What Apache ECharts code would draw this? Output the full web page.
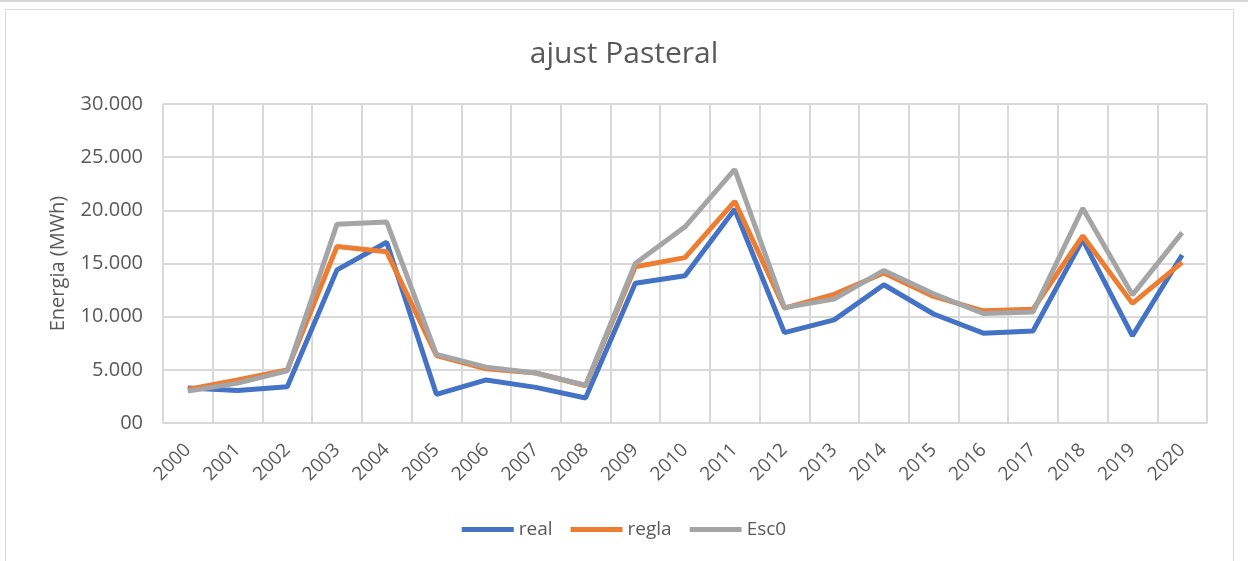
<!DOCTYPE html>
<html>
<head>
<meta charset="utf-8">
<script src="https://cdn.jsdelivr.net/npm/echarts@6/dist/echarts.min.js"></script>
<style>
  html, body { margin: 0; padding: 0; background: #fff; }
  body { width: 1248px; height: 561px; position: relative; overflow: hidden; }
  .topline { position: absolute; left: 0; top: 0; width: 1248px; height: 2px; background: #d6d6d6; }
  .frame { position: absolute; left: 5px; top: 9px; width: 1227px; height: 560px; border: 1px solid #d9d9d9; }
  #chart { position: absolute; left: 0; top: 0; width: 1248px; height: 561px; }
</style>
</head>
<body>
<div class="topline"></div>
<div class="frame"></div>
<div id="chart"></div>
<script>
const years = ["2000", "2001", "2002", "2003", "2004", "2005", "2006", "2007", "2008", "2009", "2010",
  "2011", "2012", "2013", "2014", "2015", "2016", "2017", "2018", "2019", "2020"];
const real = [3300, 3050, 3400, 14400, 17000, 2700, 4050, 3350, 2350, 13150, 13850,
  20100, 8500, 9700, 13000, 10250, 8450, 8650, 17250, 8200, 15800];
const regla = [3150, 4050, 5000, 16600, 16100, 6350, 5100, 4700, 3500, 14700, 15550,
  20850, 10800, 12100, 14100, 11900, 10550, 10700, 17600, 11250, 15100];
const esc0 = [3000, 3750, 4900, 18700, 18900, 6450, 5250, 4700, 3550, 15000, 18450,
  23850, 10850, 11650, 14350, 12150, 10300, 10450, 20200, 12050, 17900];
const yTickLabels = ["00", "5.000", "10.000", "15.000", "20.000", "25.000", "30.000"];

const chart = echarts.init(document.getElementById("chart"));
const textColor = "#595959";
const font = "Open Sans";

const option = {
  animation: false,
  color: ["#4472C4", "#ED7D31", "#A5A5A5"],
  title: {
    text: "ajust Pasteral",
    left: "center",
    top: 34,
    textStyle: { fontFamily: font, fontSize: 30, fontWeight: "normal", color: textColor },
  },
  legend: {
    bottom: 17,
    left: "center",
    icon: "rect",
    itemWidth: 52,
    itemHeight: 5,
    itemGap: 18,
    textStyle: { fontFamily: font, fontSize: 19, color: textColor },
    data: ["real", "regla", "Esc0"],
  },
  grid: { left: 163, right: 41, top: 104, bottom: 138 },
  xAxis: {
    type: "category",
    data: years,
    boundaryGap: true,
    axisLine: { lineStyle: { color: "#d9d9d9", width: 1 } },
    axisTick: { show: false },
    splitLine: { show: true, lineStyle: { color: "#d9d9d9", width: 2 } },
    axisLabel: {
      rotate: 45,
      interval: 0,
      margin: 24,
      fontFamily: font,
      fontSize: 19,
      color: textColor,
    },
  },
  yAxis: {
    type: "value",
    min: 0,
    max: 30000,
    interval: 5000,
    name: "Energia (MWh)",
    nameLocation: "middle",
    nameGap: 95,
    nameTextStyle: { fontFamily: font, fontSize: 20, color: textColor },
    axisLine: { show: false },
    axisTick: { show: false },
    splitLine: { lineStyle: { color: "#d9d9d9", width: 2 } },
    axisLabel: {
      margin: 20,
      fontFamily: font,
      fontSize: 20,
      color: textColor,
      formatter: (v) => yTickLabels[Math.round(v / 5000)],
    },
  },
  series: [
    { name: "real", type: "line", data: real, symbol: "none", lineStyle: { width: 5 } },
    { name: "regla", type: "line", data: regla, symbol: "none", lineStyle: { width: 5 } },
    { name: "Esc0", type: "line", data: esc0, symbol: "none", lineStyle: { width: 5 } },
  ],
};

chart.setOption(option);
</script>
</body>
</html>
